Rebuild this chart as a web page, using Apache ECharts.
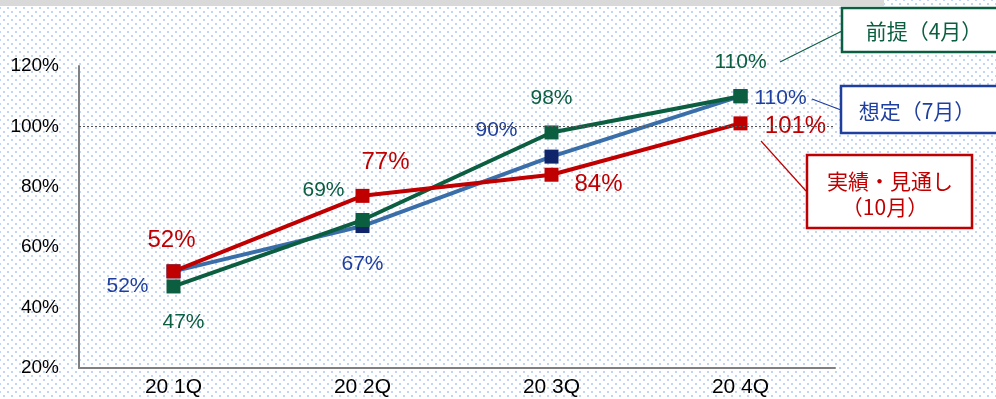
<!DOCTYPE html>
<html>
<head>
<meta charset="utf-8">
<script src="https://cdn.jsdelivr.net/npm/echarts@6/dist/echarts.min.js"></script>
<style>
  html, body { margin: 0; padding: 0; }
  body {
    width: 996px; height: 399px; position: relative; overflow: hidden;
    background-color: #ffffff;
    background-image:
      radial-gradient(circle, #c3d5f7 0.8px, transparent 1.2px),
      radial-gradient(circle, #c3d5f7 0.8px, transparent 1.2px);
    background-size: 8px 8px, 8px 8px;
    background-position: 0 0, 4px 4px;
  }
  #band { position: absolute; left: 0; top: 0; width: 884px; height: 6px; background: #d9d9d9; }
  #main { position: absolute; left: 0; top: 0; width: 996px; height: 399px; }
</style>
</head>
<body>
<div id="band"></div>
<div id="main"></div>
<script>
// データ
const categories = ['20 1Q', '20 2Q', '20 3Q', '20 4Q'];
const yTicks = [20, 40, 60, 80, 100, 120];
const planApr = [47, 69, 98, 110];   // 前提（4月）
const planJul = [52, 67, 90, 110];   // 想定（7月）
const actualOct = [52, 77, 84, 101]; // 実績・見通し（10月）

// ラベル位置（点からのずれ）
const offApr = [[10, 36], [-39, -30], [0, -34], [0, -34]];
const offJul = [[-46, 15], [0, 38], [-55, -26], [40, 2]];
const offOct = [[-2, -31], [23, -33], [47, 10], [55, 3]];

const GREEN = '#0b5e3f';
const BLUE_LINE = '#3a6ea8';
const BLUE_MARK = '#10246a';
const BLUE_TEXT = '#1f3f9e';
const RED = '#c00000';
const NUM_FONT = "'Liberation Sans Narrow', 'Arial Narrow', 'Liberation Sans', sans-serif";
const CJK_FONT = "'Noto Sans CJK JP', sans-serif";

function withLabels(values, offsets, color, size) {
    return values.map((v, i) => ({
        value: v,
        label: {
            show: true,
            position: 'inside',
            offset: offsets[i],
            formatter: '{c}%',
            color: color,
            fontSize: size,
            fontFamily: NUM_FONT,
            align: 'center',
            verticalAlign: 'middle'
        }
    }));
}

function calloutBox(x, y, w, h, color, lines) {
    const children = [{
        type: 'rect',
        shape: { x: 0, y: 0, width: w, height: h },
        style: { fill: '#ffffff', stroke: color, lineWidth: 2.5 }
    }];
    lines.forEach((t) => {
        children.push({
            type: 'text',
            x: t[1], y: t[2],
            style: {
                text: t[0], fill: color, fontSize: 21, fontFamily: CJK_FONT,
                align: 'center', verticalAlign: 'middle'
            }
        });
    });
    return { type: 'group', x: x, y: y, children: children };
}

function leader(x1, y1, x2, y2, color) {
    return {
        type: 'line',
        shape: { x1: x1, y1: y1, x2: x2, y2: y2 },
        style: { stroke: color, lineWidth: 1.2 }
    };
}

const chart = echarts.init(document.getElementById('main'));
chart.setOption({
    backgroundColor: 'transparent',
    animation: false,
    grid: { left: 79, right: 161, top: 66, bottom: 31 },
    xAxis: {
        type: 'category',
        data: categories,
        boundaryGap: true,
        axisLine: { lineStyle: { color: '#808080', width: 2 } },
        axisTick: { show: false },
        axisLabel: { color: '#000', fontSize: 21, fontFamily: "'Liberation Sans', sans-serif", margin: 9 }
    },
    yAxis: {
        type: 'value',
        min: yTicks[0],
        max: yTicks[yTicks.length - 1],
        interval: 20,
        axisLine: { show: true, lineStyle: { color: '#808080', width: 2 } },
        axisTick: { show: false },
        splitLine: { show: false },
        axisLabel: {
            color: '#000', fontSize: 19, fontFamily: "'Liberation Sans', sans-serif",
            margin: 20, formatter: '{value}%'
        }
    },
    series: [
        {
            name: '想定（7月）',
            type: 'line',
            data: withLabels(planJul, offJul, BLUE_TEXT, 21),
            symbol: 'rect',
            symbolSize: 14,
            lineStyle: { color: BLUE_LINE, width: 4 },
            itemStyle: { color: BLUE_MARK },
            z: 2,
            markLine: {
                silent: true,
                symbol: 'none',
                label: { show: false },
                lineStyle: { color: '#555', type: [2, 2], width: 1 },
                data: [{ yAxis: 100 }]
            }
        },
        {
            name: '前提（4月）',
            type: 'line',
            data: withLabels(planApr, offApr, GREEN, 21),
            symbol: 'rect',
            symbolSize: 14,
            lineStyle: { color: GREEN, width: 4 },
            itemStyle: { color: GREEN },
            z: 3
        },
        {
            name: '実績・見通し（10月）',
            type: 'line',
            data: withLabels(actualOct, offOct, RED, 24),
            symbol: 'rect',
            symbolSize: 14,
            lineStyle: { color: RED, width: 4 },
            itemStyle: { color: RED },
            z: 4
        }
    ],
    graphic: [
        leader(780, 62, 842, 31, GREEN),
        leader(812, 99, 841, 110, BLUE_TEXT),
        leader(761, 141, 806, 191, RED),
        calloutBox(842, 8, 170, 44, GREEN, [['前提（4月）', 82, 23]]),
        calloutBox(841, 86, 170, 47, BLUE_TEXT, [['想定（7月）', 76, 25]]),
        calloutBox(807, 155, 165, 73, RED, [['実績・見通し', 83, 26], ['（10月）', 78, 52]])
    ]
});

window.addEventListener('resize', () => chart.resize());
</script>
</body>
</html>
